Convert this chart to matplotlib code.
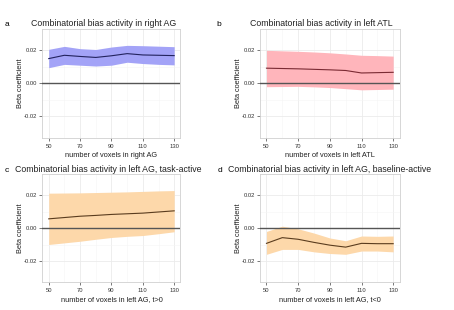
import matplotlib
matplotlib.use("Agg")
import matplotlib.pyplot as plt

plt.rcParams['font.family'] = ['Liberation Sans', 'DejaVu Sans']

voxels = [50, 60, 70, 80, 90, 100, 110, 120, 130]

# a: right AG
a_mean = [0.0150, 0.0170, 0.0163, 0.0157, 0.0167, 0.0180, 0.0172, 0.0170, 0.0168]
a_upper = [0.0206, 0.0224, 0.0210, 0.0205, 0.0220, 0.0230, 0.0228, 0.0225, 0.0222]
a_lower = [0.0095, 0.0115, 0.0110, 0.0105, 0.0110, 0.0128, 0.0120, 0.0115, 0.0112]

# b: left ATL
b_mean = [0.0092, 0.0090, 0.0088, 0.0085, 0.0082, 0.0078, 0.0063, 0.0065, 0.0067]
b_upper = [0.0200, 0.0197, 0.0194, 0.0190, 0.0185, 0.0178, 0.0170, 0.0168, 0.0165]
b_lower = [-0.0020, -0.0019, -0.0018, -0.0021, -0.0025, -0.0032, -0.0039, -0.0037, -0.0035]

# c: left AG, t>0
c_mean = [0.0057, 0.0065, 0.0073, 0.0078, 0.0084, 0.0088, 0.0092, 0.0099, 0.0106]
c_upper = [0.0214, 0.0215, 0.0216, 0.0218, 0.0220, 0.0222, 0.0225, 0.0228, 0.0230]
c_lower = [-0.0100, -0.0090, -0.0080, -0.0068, -0.0057, -0.0050, -0.0045, -0.0034, -0.0022]

# d: left AG, t<0
d_mean = [-0.0093, -0.0058, -0.0068, -0.0087, -0.0104, -0.0116, -0.0093, -0.0095, -0.0095]
d_upper = [-0.0020, 0.0012, -0.0004, -0.0030, -0.0060, -0.0077, -0.0048, -0.0050, -0.0048]
d_lower = [-0.0160, -0.0130, -0.0130, -0.0145, -0.0155, -0.0160, -0.0140, -0.0140, -0.0145]

xticks = [50, 70, 90, 110, 130]
yticks = [-0.02, 0.00, 0.02]

panels = [
    ("a", "Combinatorial bias activity in right AG", "number of voxels in right AG",
     a_mean, a_upper, a_lower, "#a3a3f7", "#23235e",
     [0.0935, 0.555, 0.304, 0.352], (5, 24), (104, 24)),
    ("b", "Combinatorial bias activity in left ATL", "number of voxels in left ATL",
     b_mean, b_upper, b_lower, "#ffb5bb", "#7a2a33",
     [0.573, 0.555, 0.307, 0.352], (216, 24), (321, 24)),
    ("c", "Combinatorial bias activity in left AG, task-active", "number of voxels in left AG, t>0",
     c_mean, c_upper, c_lower, "#fdd8aa", "#5a3c1e",
     [0.0935, 0.090, 0.304, 0.348], (5, 170), (108, 170)),
    ("d", "Combinatorial bias activity in left AG, baseline-active", "number of voxels in left AG, t<0",
     d_mean, d_upper, d_lower, "#fdd8aa", "#5a3c1e",
     [0.573, 0.090, 0.307, 0.348], (218, 170), (330, 170)),
]

W, H = 454, 310
fig = plt.figure(figsize=(W / 100, H / 100), dpi=100)

for letter, title, xlabel, mean, upper, lower, fill, line, pos, lpos, tpos in panels:
    ax = fig.add_axes(pos)
    ax.fill_between(voxels, lower, upper, color=fill, lw=0, zorder=2)
    ax.plot(voxels, mean, color=line, lw=0.8, zorder=3)
    ax.axhline(0, color="#555555", lw=1.0, zorder=4)
    ax.set_xlim(46, 134)
    ax.set_ylim(-0.033, 0.033)
    ax.set_xticks(xticks)
    ax.set_yticks(yticks)
    ax.set_yticklabels(["-0.02", "0.00", "0.02"])
    ax.set_xticks([60, 80, 100, 120], minor=True)
    ax.set_yticks([-0.01, 0.01], minor=True)
    ax.grid(True, which="major", color="#ebebeb", lw=0.6, zorder=0)
    ax.grid(True, which="minor", color="#f5f5f5", lw=0.4, zorder=0)
    ax.tick_params(which="major", labelsize=4.2, length=2, width=0.5,
                   color="#444444", labelcolor="#333333", pad=1.5)
    ax.tick_params(axis="x", which="major", pad=2.5)
    ax.tick_params(which="minor", length=0)
    for s in ax.spines.values():
        s.set_color("#d0d0d0")
        s.set_linewidth(0.6)
    ax.set_xlabel(xlabel, fontsize=5.3, labelpad=2, color="#222222")
    ax.set_ylabel("Beta coefficient", fontsize=5.3, labelpad=0, color="#222222")
    fig.text(lpos[0] / W, 1 - lpos[1] / H, letter, fontsize=6, ha="left", va="center")
    fig.text(tpos[0] / W, 1 - tpos[1] / H, title, fontsize=6.3, ha="center", va="center",
             color="#222222")

fig.savefig("out.png", dpi=100)
